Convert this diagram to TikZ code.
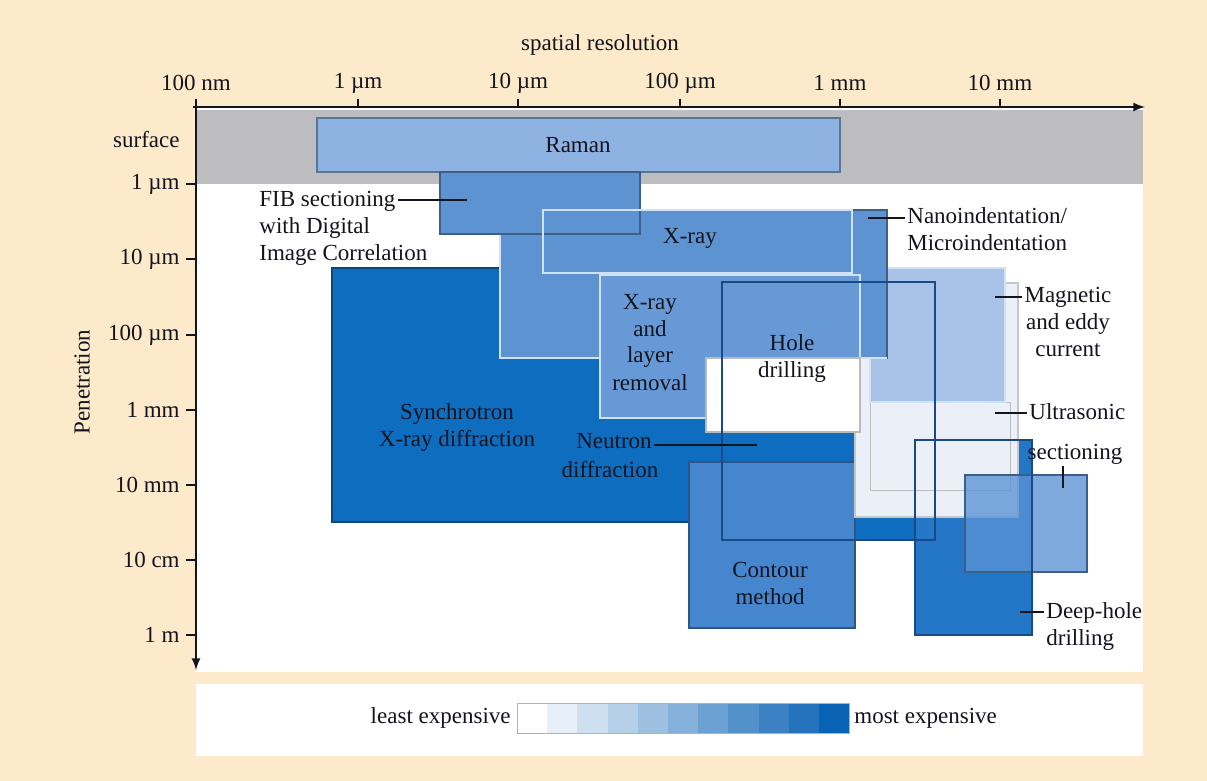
\documentclass[tikz,border=0pt]{standalone}
\usepackage{fontspec}
\setmainfont{Liberation Serif}
\usepackage{tikz}
\usetikzlibrary{calc}
\usetikzlibrary{arrows}
\usetikzlibrary{positioning}

\definecolor{cream}{HTML}{FCEACB}
\definecolor{band}{HTML}{BDBDBF}
\definecolor{ink}{HTML}{14141E}
\definecolor{cRaman}{HTML}{8EB3E3}
\definecolor{cMed}{HTML}{5E93D2}
\definecolor{cMedb}{HTML}{6699D5}
\definecolor{cDark}{HTML}{0E6DBE}
\definecolor{cCont}{HTML}{4686CE}
\definecolor{cDeep}{HTML}{2377C6}
\definecolor{cMag}{HTML}{A8C3E7}
\definecolor{cUlt}{HTML}{EBF0F8}
\definecolor{cSec}{HTML}{5A92D4}
\definecolor{cLeg}{HTML}{0A62B5}
\definecolor{edgeDark}{HTML}{1A4A85}
\definecolor{edgeLite}{HTML}{D2E2F6}

\tikzset{
  lbl/.style={text=ink, font=\fontsize{11.5}{13.5}\selectfont, inner sep=1pt},
  lead/.style={draw=ink, line width=0.25mm},
  tick/.style={draw=ink, line width=0.30mm},
  axis/.style={draw=ink, line width=0.35mm, ->, >=latex},
  methbox/.style={draw=#1!65!black, fill=#1, line width=0.20mm},
  litebox/.style={draw=edgeLite, fill=#1, line width=0.20mm},
}

\begin{document}
\begin{tikzpicture}[x=0.5pt,y=-0.5pt]
  \useasboundingbox[fill=cream] (0,0) rectangle (1207,781);
  %% panels
  \fill[white] (196,107) rectangle (1143,672);
  \fill[white] (196,684) rectangle (1143,756);
  \fill[band] (196,110) rectangle (1143,184);

  %% methods, back to front
  \draw[methbox=cRaman] (317,118) rectangle (840,172);
  \draw[methbox=cDark] (332,268) rectangle (855,522);   % synchrotron
  \draw[methbox=cDark] (722,282) rectangle (935,540);   % neutron
  \draw[methbox=cDeep] (915,440) rectangle (1032,635);  % deep-hole
  \draw[methbox=cCont] (689,462) rectangle (855,628);   % contour
  \draw[fill=cUlt, draw=gray!45, line width=0.20mm] (855,283) rectangle (1018,517); % ultrasonic
  \draw[draw=gray!50, line width=0.15mm] (870,402) rectangle (1010,490);
  \draw[litebox=cMag] (870,268) rectangle (1005,402);   % magnetic
  \draw[methbox=cMed] (500,210) rectangle (887,358);    % x-ray
  \draw[litebox=cMed] (500,210) -- (500,358) -- (887,358);
  \draw[methbox=cMed] (440,172) rectangle (640,234);    % FIB
  \draw[edgeLite, line width=0.30mm] (543,210) rectangle (852,273); % nanoindentation
  \draw[litebox=cMedb] (600,275) rectangle (860,418);   % x-ray and layer removal
  \draw[fill=white, draw=gray!55, line width=0.20mm] (706,358) rectangle (860,432); % hole drilling
  \draw[methbox=cSec, fill opacity=0.78] (965,475) rectangle (1087,572); % sectioning
  \draw[edgeDark, line width=0.20mm] (722,282) rectangle (935,540);
  \draw[edgeDark, line width=0.20mm] (915,440) rectangle (1032,635);

  %% axes
  \draw[axis] (193,107) -- (1145,107);
  \draw[axis] (196,104) -- (196,670);
  \foreach \x/\t [count=\i] in {196/100 nm,358/1 µm,518/10 µm,680/100 µm,840/1 mm,1000/10 mm}{ % x
    \draw[tick] (\x,99) -- (\x,107);
    \node[lbl] (top\i) at (\x,83) {\t};
  }
  \foreach \y/\t [count=\i] in {184/1 µm,259/10 µm,335/100 µm,410/1 mm,485/10 mm,560/10 cm,635/1 m}{ % y
    \draw[tick] (186,\y) -- (196,\y);
    \node[lbl, anchor=east] (left\i) at (182,\y) {\t};
  }
  \node[lbl, anchor=east] (surf) at (182,140) {surface};
  \node[lbl] (xtitle) at (600,45) {spatial resolution};
  \node[lbl, rotate=90] (ytitle) at (82,382) {Penetration};

  %% labels in boxes (base = last line)
  \node[lbl] (raman) at (578,145) {Raman};
  \node[lbl] (xray) at (690,238) {X-ray};
  \node[lbl, align=center, anchor=base] (layer) at (650,390) {X-ray\\and\\layer\\removal};
  \node[lbl, align=center, anchor=base] (hole) at (792,378) {Hole\\drilling};
  \node[lbl, align=center, anchor=base] (sync) at (457,446) {Synchrotron\\X-ray diffraction};
  \node[lbl, align=center, anchor=base] (cont) at (770,604) {Contour\\method};
  \node[lbl, anchor=base] (neu) at (614,449) {Neutron};
  \node[lbl, anchor=base] (neub) at (610,477) {diffraction};

  %% outside labels and leaders
  \node[lbl, anchor=base west] (fib) at (257,206) {FIB sectioning};
  \node[lbl, anchor=base west, align=left] (fibb) at (257,261) {with Digital\\Image Correlation};
  \node[lbl, anchor=base west, align=left] (nano) at (905,251) {Nanoindentation/\\Microindentation};
  \node[lbl, anchor=base, align=center] (mag) at (1068,357) {Magnetic\\and eddy\\current};
  \node[lbl, anchor=base west] (ultra) at (1027,419) {Ultrasonic};
  \node[lbl, anchor=base] (sec) at (1075,459) {sectioning};
  \node[lbl, anchor=base west, align=left] (deep) at (1044,645) {Deep-hole\\drilling};

  \coordinate (fibpt) at (467,200);
  \coordinate (neupt) at (757,445);
  \coordinate (nanopt) at (868,218);
  \coordinate (magpt) at (995,297);
  \coordinate (ultpt) at (995,413);
  \coordinate (secpt) at (1063,488);
  \coordinate (deeppt) at (1020,612);
  \draw[lead] (fib.east |- fibpt) -- (fibpt);
  \draw[lead] (neu.east |- neupt) -- (neupt);
  \draw[lead] (nanopt) -- (nanopt -| nano.west);
  \draw[lead] (magpt) -- (magpt -| mag.west);
  \draw[lead] (ultpt) -- (ultpt -| ultra.west);
  \draw[lead] (secpt |- sec.south) -- (secpt);
  \draw[lead] (deeppt) -- (deeppt -| deep.west);

  %% cost scale
  \foreach \i in {0,...,10}{
    \pgfmathtruncatemacro\pct{\i*10}
    \fill[cLeg!\pct!white] ({517+\i*30.2},703) rectangle ({517+(\i+1)*30.2},733);
  }
  \draw[gray!60, line width=0.15mm] (517,703) rectangle (849,733);
  \node[lbl, anchor=east] (least) at (513,718) {least expensive};
  \node[lbl, anchor=west] (most) at (852,718) {most expensive};
\end{tikzpicture}
\end{document}
